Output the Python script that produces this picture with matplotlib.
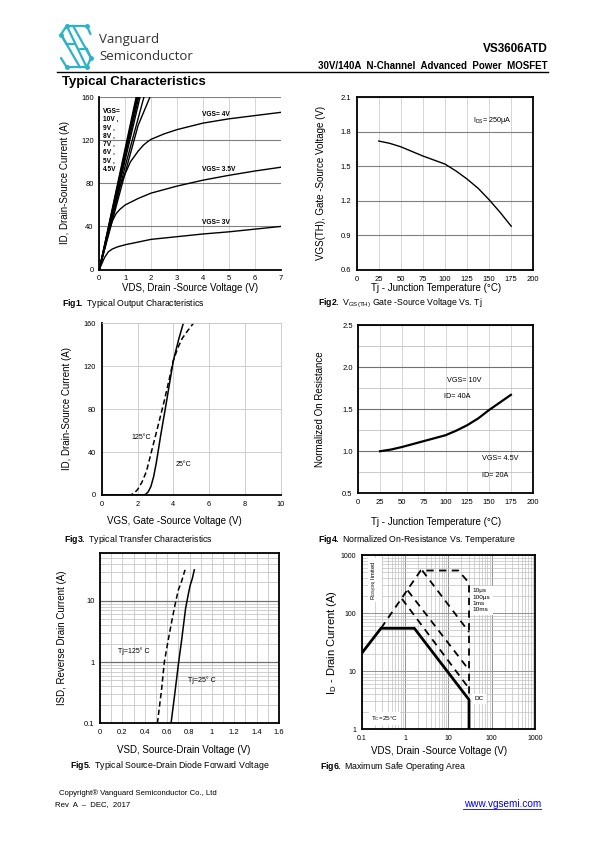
import matplotlib
matplotlib.use('Agg')
import matplotlib.pyplot as plt
from matplotlib import font_manager
from matplotlib.lines import Line2D
from matplotlib.ticker import FixedLocator, NullFormatter

# ---- data ----
# Fig1 output characteristics (VDS in V, ID in A)
vgs_high_labels = ['10V', '9V', '8V', '7V', '6V', '5V', '4.5V']
vgs_high_vds = [[0, 1.42], [0, 1.45], [0, 1.48], [0, 1.52], [0, 1.57], [0, 1.0, 1.72], [0, 1.0, 1.5, 1.95]]
vgs_high_id = [[0, 160], [0, 160], [0, 160], [0, 160], [0, 160], [0, 96, 160], [0, 90, 134, 160]]
vgs4_vds = [0, 0.8, 1.2, 1.5, 1.7, 1.85, 2.0, 2.5, 3, 4, 5, 6, 7]
vgs4_id = [0, 78, 100, 110, 115.5, 118.5, 121, 126, 130, 136, 140, 143, 146]
vgs35_vds = [0, 0.3, 0.5, 0.65, 0.8, 1, 1.5, 2, 3, 4, 5, 6, 7]
vgs35_id = [0, 30, 45, 52, 56, 60, 66, 71, 77.5, 83, 87.5, 91.5, 95]
vgs3_vds = [0, 0.2, 0.35, 0.5, 0.7, 1, 1.5, 2, 3, 4, 5, 6, 7]
vgs3_id = [0, 11, 16.5, 19, 21, 23, 25.5, 28, 30.5, 33, 35, 37.5, 40]

# Fig2 threshold voltage vs Tj
tj = [25, 37.5, 50, 62.5, 75, 87.5, 100, 112.5, 125, 137.5, 150, 162.5, 175]
vth = [1.72, 1.70, 1.67, 1.63, 1.59, 1.555, 1.52, 1.46, 1.39, 1.31, 1.21, 1.10, 0.98]

# Fig3 transfer characteristics
vgs_25 = [0, 2.3, 2.45, 2.6, 2.75, 2.9, 3.05, 3.3, 3.6, 4.0, 4.3, 4.56]
id_25 = [0, 0, 0.5, 3, 8, 17, 30, 56, 85, 125, 145, 160]
vgs_125 = [1.0, 1.6, 1.8, 2.0, 2.25, 2.5, 2.85, 3.2, 3.5, 3.8, 4.0, 4.25, 4.5, 4.8, 5.12]
id_125 = [0, 0, 1.5, 5, 12, 22, 45, 68, 88, 110, 125, 137, 146, 153, 160]

# Fig4 normalized on-resistance
rn = [1.0, 1.02, 1.05, 1.085, 1.12, 1.155, 1.19, 1.245, 1.31, 1.39, 1.49, 1.58, 1.67]

# Fig5 body diode forward voltage
vsd_25 = [0.635, 0.67, 0.70, 0.73, 0.765, 0.79, 0.805, 0.825, 0.843]
isd_25 = [0.1, 0.32, 0.9, 2.3, 7.5, 13, 17.6, 23, 32]
vsd_125 = [0.513, 0.55, 0.575, 0.61, 0.64, 0.67, 0.70, 0.73, 0.745, 0.76]
isd_125 = [0.1, 0.35, 1.0, 2.3, 4.5, 8.5, 15, 21, 26, 32]

# Fig6 safe operating area
soa_dc_v = [0.1, 0.279, 1.64, 30, 30]
soa_dc_i = [20.2, 54.5, 54.5, 3.2, 1]
soa_10us_v = [0.279, 2.3, 17, 30, 30]
soa_10us_i = [54.5, 540, 540, 330, 3.2]
soa_100us_v = [2.5, 30]
soa_100us_i = [540, 47]
soa_1ms_v = [1.15, 30]
soa_1ms_i = [245, 10.4]
soa_10ms_v = [0.85, 30]
soa_10ms_i = [175, 5.0]

# ---- fonts ----
names = {f.name for f in font_manager.fontManager.ttflist}
narrow = 'Liberation Sans Narrow' if 'Liberation Sans Narrow' in names else 'Liberation Sans'
plt.rcParams['font.family'] = ['Liberation Sans', 'DejaVu Sans']
plt.rcParams['mathtext.fontset'] = 'custom'
plt.rcParams['mathtext.rm'] = 'Liberation Sans'
plt.rcParams['mathtext.it'] = 'Liberation Sans:italic'
plt.rcParams['mathtext.bf'] = 'Liberation Sans:bold'

W, H = 595, 842
fig = plt.figure(figsize=(W / 100, H / 100), dpi=100)


def box(l, t, r, b):
    return [l / W, 1 - b / H, (r - l) / W, (b - t) / H]


def ftext(x, y, s, **kw):
    kw.setdefault('va', 'center')
    fig.text(x / W, 1 - y / H, s, **kw)


def style(ax, frame='black', tickfont=narrow, size=5.5):
    ax.tick_params(length=0, labelsize=size, pad=4)
    for lab in ax.get_xticklabels() + ax.get_yticklabels():
        lab.set_family(tickfont)
    for side in ['left', 'bottom']:
        ax.spines[side].set_linewidth(1.3)
    for side in ['top', 'right']:
        ax.spines[side].set_color(frame)
        ax.spines[side].set_linewidth(1.3 if frame == 'black' else 0.6)
    ax.set_axisbelow(True)


# ---- header ----
teal = '#2BB3C6'
logo = [[(66.7, 25.7), (86.7, 25.7)], [(66.7, 25.7), (61, 34.5), (66.7, 44.3)],
        [(86.7, 25.7), (90.5, 34)], [(66.7, 25.7), (86.7, 67.3)],
        [(73, 25.7), (91, 58)], [(61, 34.5), (80, 67.3)],
        [(66.7, 67.3), (86.7, 67.3)], [(86.7, 67.3), (91, 58), (86.7, 48.5)],
        [(61, 58), (66.7, 67.3)], [(66.7, 44.3), (74, 44.3)], [(79.5, 48.5), (86.7, 48.5)]]
for seg in logo:
    xs = [p[0] / W for p in seg]
    ys = [1 - p[1] / H for p in seg]
    fig.add_artist(Line2D(xs, ys, color=teal, lw=1.6, solid_capstyle='round'))
for p in [(66.7, 25.7), (86.7, 25.7), (61, 34.5), (66.7, 67.3), (86.7, 67.3), (91, 58)]:
    fig.add_artist(Line2D([p[0] / W], [1 - p[1] / H], marker='o', ms=2.5, color=teal))

ftext(99, 39, 'Vanguard', fontsize=9.5, color='#333333', family=['Open Sans', 'Liberation Sans'])
ftext(99, 56, 'Semiconductor', fontsize=9.5, color='#333333', family=['Open Sans', 'Liberation Sans'])
ftext(548, 49, 'VS3606ATD', fontsize=8.5, weight='bold', ha='right')
ftext(548, 66, '30V/140A  N-Channel  Advanced  Power  MOSFET', fontsize=7, weight='bold', ha='right')
fig.add_artist(Line2D([57 / W, 548 / W], [1 - 72 / H] * 2, color='black', lw=1.0))
ftext(62, 82.5, 'Typical Characteristics', fontsize=9.5, weight='bold')

# ---- Fig1 ----
ax1 = fig.add_axes(box(99.3, 97.3, 280.7, 269.5))
for xs, ys in zip(vgs_high_vds, vgs_high_id):
    ax1.plot(xs, ys, color='black', lw=1.0)
ax1.plot(vgs4_vds, vgs4_id, color='black', lw=1.0)
ax1.plot(vgs35_vds, vgs35_id, color='black', lw=1.0)
ax1.plot(vgs3_vds, vgs3_id, color='black', lw=1.0)
ax1.set_xlim(0, 7)
ax1.set_ylim(0, 160)
ax1.set_xticks(range(0, 8))
ax1.set_yticks([0, 40, 80, 120, 160])
ax1.xaxis.grid(True, color='#d0d0d0', lw=0.6)
ax1.yaxis.grid(True, color='#808080', lw=0.8)
style(ax1, frame='none')
ax1.text(0.15, 150, 'VGS=\n' + '\n'.join(v + ' ,' for v in vgs_high_labels[:-1]) + '\n' + vgs_high_labels[-1],
         fontsize=4.8, weight='bold', family=narrow, va='top', linespacing=1.25)
ax1.text(3.95, 144, 'VGS= 4V', fontsize=4.8, weight='bold', family=narrow, va='center')
ax1.text(3.95, 92.5, 'VGS= 3.5V', fontsize=4.8, weight='bold', family=narrow, va='center')
ax1.text(3.95, 43.5, 'VGS= 3V', fontsize=4.8, weight='bold', family=narrow, va='center')
ftext(190, 288, 'VDS, Drain -Source Voltage (V)', fontsize=7, ha='center')
ftext(65, 183, 'ID, Drain-Source Current (A)', fontsize=7, ha='center', rotation=90)
ftext(62, 303, r'$\bf{Fig1.}$ Typical Output Characteristics', fontsize=6.3)

# ---- Fig2 ----
ax2 = fig.add_axes(box(356.7, 97.3, 533.3, 270))
ax2.plot(tj, vth, color='black', lw=1.0)
ax2.set_xlim(0, 200)
ax2.set_ylim(0.6, 2.1)
ax2.set_xticks(range(0, 201, 25))
ax2.set_yticks([0.6, 0.9, 1.2, 1.5, 1.8, 2.1])
ax2.xaxis.grid(True, color='#d0d0d0', lw=0.6)
ax2.yaxis.grid(True, color='#808080', lw=0.8)
style(ax2)
ax2.text(132, 1.895, r'I$_{\mathrm{DS}}$= 250μA', fontsize=5.2, family=narrow, va='center')
ftext(436, 288, 'Tj - Junction Temperature (°C)', fontsize=7, ha='center')
ftext(321, 183, 'VGS(TH), Gate -Source Voltage (V)', fontsize=7, ha='center', rotation=90)
ftext(318, 303, r'$\bf{Fig2.}$ V$_{\mathrm{GS(TH)}}$ Gate -Source Voltage Vs. Tj', fontsize=6.3)

# ---- Fig3 ----
ax3 = fig.add_axes(box(101.7, 323.3, 280.7, 495))
ax3.plot(vgs_25, id_25, color='black', lw=1.1)
ax3.plot(vgs_125, id_125, color='black', lw=1.1, ls=(0, (3.5, 2)))
ax3.set_xlim(0, 10)
ax3.set_ylim(0, 160)
ax3.set_xticks(range(0, 11, 2))
ax3.set_yticks([0, 40, 80, 120, 160])
ax3.grid(True, color='#c8c8c8', lw=0.6)
style(ax3, frame='#c8c8c8', tickfont='Liberation Sans', size=5.3)
ax3.text(1.68, 54, '125°C', fontsize=5, va='center')
ax3.text(4.13, 28, '25°C', fontsize=5, va='center')
ftext(174, 521, 'VGS, Gate -Source Voltage (V)', fontsize=7, ha='center')
ftext(66.7, 409, 'ID, Drain-Source Current (A)', fontsize=7, ha='center', rotation=90)
ftext(64, 540, r'$\bf{Fig3.}$ Typical Transfer Characteristics', fontsize=6.3)

# ---- Fig4 ----
ax4 = fig.add_axes(box(358.3, 325, 532.7, 493.3))
ax4.plot(tj, rn, color='black', lw=1.6)
ax4.set_xlim(0, 200)
ax4.set_ylim(0.5, 2.5)
ax4.set_xticks(range(0, 201, 25))
ax4.set_yticks([0.5, 1.0, 1.5, 2.0, 2.5])
ax4.set_yticklabels(['0.5', '1.0', '1.5', '2.0', '2.5'])
ax4.yaxis.set_minor_locator(FixedLocator([0.75, 1.25, 1.75, 2.25]))
ax4.yaxis.set_minor_formatter(NullFormatter())
ax4.tick_params(which='minor', length=0)
ax4.xaxis.grid(True, color='#d0d0d0', lw=0.6)
ax4.yaxis.grid(True, which='major', color='#707070', lw=0.8)
ax4.yaxis.grid(True, which='minor', color='#c0c0c0', lw=0.6)
style(ax4)
ax4.text(102, 1.84, 'VGS= 10V', fontsize=5.2, family=narrow, va='center')
ax4.text(98.6, 1.65, 'ID= 40A', fontsize=5.2, family=narrow, va='center')
ax4.text(141.5, 0.91, 'VGS= 4.5V', fontsize=5.2, family=narrow, va='center')
ax4.text(141.5, 0.71, 'ID= 20A', fontsize=5.2, family=narrow, va='center')
ftext(436, 521.7, 'Tj - Junction Temperature (°C)', fontsize=7, ha='center')
ftext(320, 409, 'Normalized On Resistance', fontsize=7, ha='center', rotation=90)
ftext(317.7, 540, r'$\bf{Fig4.}$ Normalized On-Resistance Vs. Temperature', fontsize=6.3)

# ---- Fig5 ----
ax5 = fig.add_axes(box(100, 552.7, 279, 723.3))
ax5.plot(vsd_25, isd_25, color='black', lw=1.1)
ax5.plot(vsd_125, isd_125, color='black', lw=1.1, ls=(0, (3.5, 2)))
ax5.set_yscale('log')
ax5.set_xlim(0, 1.6)
ax5.set_ylim(0.1, 61)
ax5.set_xticks([0, 0.2, 0.4, 0.6, 0.8, 1.0, 1.2, 1.4, 1.6])
ax5.set_xticklabels(['0', '0.2', '0.4', '0.6', '0.8', '1', '1.2', '1.4', '1.6'])
ax5.set_yticks([0.1, 1, 10])
ax5.set_yticklabels(['0.1', '1', '10'])
ax5.xaxis.set_minor_locator(FixedLocator([0.1, 0.3, 0.5, 0.7, 0.9, 1.1, 1.3, 1.5]))
ax5.yaxis.set_minor_formatter(NullFormatter())
ax5.tick_params(which='minor', length=0)
ax5.xaxis.grid(True, which='both', color='#c8c8c8', lw=0.6)
ax5.yaxis.grid(True, which='minor', color='#c8c8c8', lw=0.6)
ax5.yaxis.grid(True, which='major', color='#707070', lw=0.9)
style(ax5)
ax5.text(0.164, 1.49, 'Tj=125° C', fontsize=5, family=narrow, va='center')
ax5.text(0.79, 0.5, 'Tj=25° C', fontsize=5, family=narrow, va='center')
ftext(184, 750, 'VSD, Source-Drain Voltage (V)', fontsize=7, ha='center')
ftext(61.7, 638, 'ISD, Reverse Drain Current (A)', fontsize=7, ha='center', rotation=90)
ftext(70, 765, r'$\bf{Fig5.}$ Typical Source-Drain Diode Forward Voltage', fontsize=6.3)

# ---- Fig6 ----
ax6 = fig.add_axes(box(361.7, 555, 535, 729))
dash = (0, (4, 3))
ax6.plot(soa_10us_v, soa_10us_i, color='black', lw=1.3, ls=dash)
ax6.plot(soa_100us_v, soa_100us_i, color='black', lw=1.3, ls=dash)
ax6.plot(soa_1ms_v, soa_1ms_i, color='black', lw=1.3, ls=dash)
ax6.plot(soa_10ms_v, soa_10ms_i, color='black', lw=1.3, ls=dash)
ax6.plot(soa_dc_v, soa_dc_i, color='black', lw=2.0)
ax6.set_xscale('log')
ax6.set_yscale('log')
ax6.set_xlim(0.1, 1000)
ax6.set_ylim(1, 1000)
ax6.set_xticks([0.1, 1, 10, 100, 1000])
ax6.set_xticklabels(['0.1', '1', '10', '100', '1000'])
ax6.set_yticks([1, 10, 100, 1000])
ax6.set_yticklabels(['1', '10', '100', '1000'])
ax6.xaxis.set_minor_formatter(NullFormatter())
ax6.yaxis.set_minor_formatter(NullFormatter())
ax6.tick_params(which='minor', length=0)
ax6.grid(True, which='minor', color='#c0c0c0', lw=0.5)
ax6.grid(True, which='major', color='#909090', lw=0.7)
style(ax6, size=5)
ax6.text(0.2, 370, r'R$_{\mathrm{DS(ON)}}$ limited', fontsize=4.2, rotation=90, ha='center', va='center',
         bbox=dict(fc='white', ec='none', pad=1.5))
ax6.text(37, 166, '10μs\n100μs\n1ms\n10ms', fontsize=4.6, family=narrow, va='center', linespacing=1.3,
         bbox=dict(fc='white', ec='none', pad=2))
ax6.text(40, 3.3, 'DC', fontsize=4.6, family=narrow, va='center', bbox=dict(fc='white', ec='none', pad=1.5))
ax6.text(0.165, 1.5, r'T$_{\mathrm{C}}$=25°C', fontsize=4.6, family=narrow, va='center',
         bbox=dict(fc='white', ec='none', pad=1.5))
ftext(439, 750.7, 'VDS, Drain -Source Voltage (V)', fontsize=7, ha='center')
ftext(331.7, 642, r'I$_{\mathrm{D}}$ - Drain Current (A)', fontsize=8, ha='center', rotation=90)
ftext(320, 766.5, r'$\bf{Fig6.}$ Maximum Safe Operating Area', fontsize=6.3)

# ---- footer ----
ftext(59, 793, 'Copyright® Vanguard Semiconductor Co., Ltd', fontsize=5.6)
ftext(55, 804.5, 'Rev  A  –  DEC,  2017', fontsize=5.6)
ftext(541, 804, 'www.vgsemi.com', fontsize=7.2, ha='right', color='#0000EE')
fig.add_artist(Line2D([463 / W, 541 / W], [1 - 808.5 / H] * 2, color='#0000EE', lw=0.6))

fig.savefig('out.png', dpi=100)
plt.close(fig)
